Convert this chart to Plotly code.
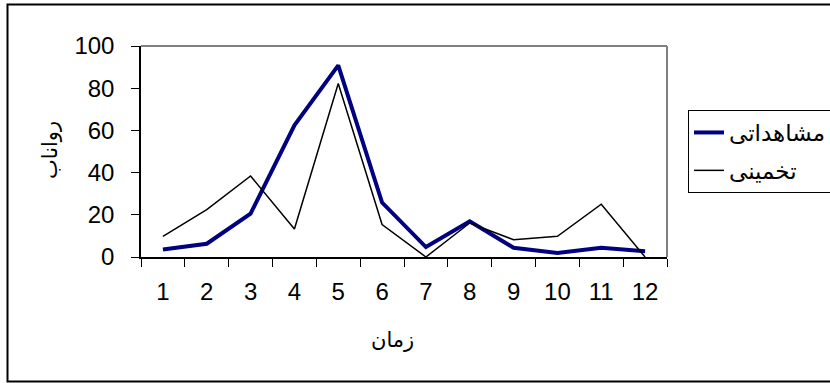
import plotly.graph_objects as go

months = [1, 2, 3, 4, 5, 6, 7, 8, 9, 10, 11, 12]
observed = [3.6, 6.3, 20.6, 62.4, 90.8, 25.8, 4.7, 16.9, 4.4, 1.9, 4.4, 2.7]
estimated = [9.8, 22.5, 38.4, 13.3, 82.2, 15.4, 0.0, 16.1, 8.2, 9.8, 25.0, 0.0]
x_labels = [str(m) for m in months]
y_ticks = [0, 20, 40, 60, 80, 100]

name_obs = "مشاهداتی"
name_est = "تخمینی"
x_title = "زمان"
y_title = "رواناب"

FONT = "Arial, Liberation Sans, DejaVu Sans, sans-serif"

fig = go.Figure()
fig.add_trace(go.Scatter(
    x=x_labels, y=observed, mode="lines", name=name_obs,
    line=dict(color="#000080", width=4), legendgroup="a", cliponaxis=False))
fig.add_trace(go.Scatter(
    x=x_labels, y=estimated, mode="lines", name=name_est,
    line=dict(color="#000000", width=1.5), legendgroup="b", cliponaxis=False))

W, H = 830, 383
L, R, T, B = 141, 163, 46, 126
pw, ph = W - L - R, H - T - B

def px_x(p):
    return (p - L) / pw

def px_y(p):
    return (H - B - p) / ph

fig.update_layout(
    width=W, height=H,
    margin=dict(l=L, r=R, t=T, b=B, autoexpand=False),
    paper_bgcolor="white", plot_bgcolor="white",
    font=dict(family=FONT, color="black"),
    showlegend=True,
    legend=dict(
        x=px_x(688), y=px_y(110), xanchor="left", yanchor="top",
        bordercolor="black", borderwidth=1, bgcolor="white",
        font=dict(size=23, family=FONT),
        traceorder="grouped", tracegroupgap=5,
    ),
    xaxis=dict(
        type="category", range=[-0.5, 11.5],
        showline=True, linecolor="black", linewidth=1.5,
        ticks="outside", ticklen=8, tickcolor="black", tickwidth=1,
        tickson="boundaries", showgrid=False, zeroline=False,
        tickfont=dict(size=24), ticklabelstandoff=12,
    ),
    yaxis=dict(
        range=[0, 100], tickvals=y_ticks,
        showline=True, linecolor="black", linewidth=1.5,
        ticks="outside", ticklen=8, tickcolor="black", tickwidth=1,
        showgrid=False, zeroline=False,
        tickfont=dict(size=24), ticklabelstandoff=12,
    ),
    shapes=[
        dict(type="line", xref="paper", yref="paper", x0=0, x1=1, y0=1, y1=1,
             line=dict(color="#808080", width=2), layer="below"),
        dict(type="line", xref="paper", yref="paper", x0=1, x1=1, y0=0, y1=1,
             line=dict(color="#808080", width=2), layer="below"),
        dict(type="rect", xref="paper", yref="paper",
             x0=px_x(7.5), x1=px_x(840), y0=px_y(381.5), y1=px_y(4.5),
             line=dict(color="black", width=2), fillcolor="rgba(0,0,0,0)"),
    ],
    annotations=[
        dict(text=x_title, xref="paper", yref="paper", x=px_x(392), y=px_y(340),
             xanchor="center", yanchor="middle", showarrow=False,
             font=dict(size=21, family=FONT)),
        dict(text=y_title, xref="paper", yref="paper", x=px_x(50), y=px_y(150),
             xanchor="center", yanchor="middle", showarrow=False, textangle=-90,
             font=dict(size=21, family=FONT)),
    ],
)

fig.write_html(
    "out.html",
    config={"displayModeBar": False},
    post_script="document.body.style.margin='0';document.body.style.padding='0';",
)
